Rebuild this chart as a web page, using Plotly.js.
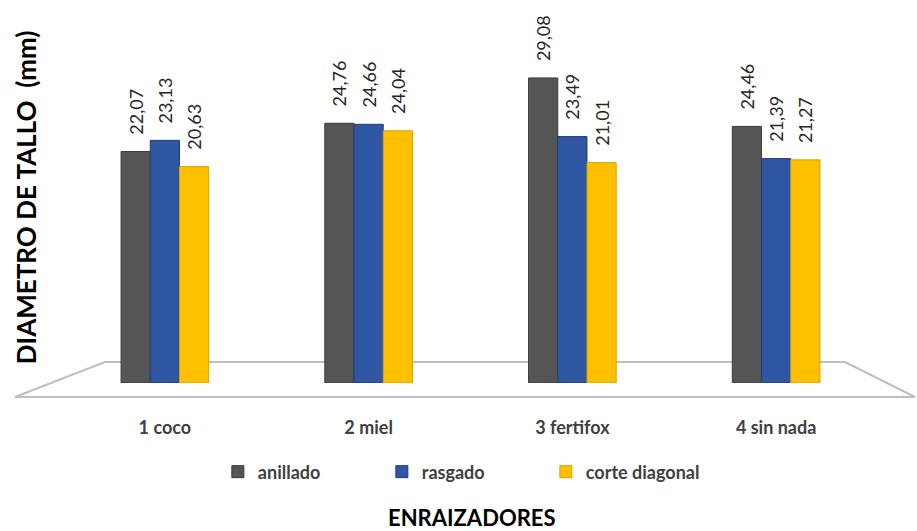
<!DOCTYPE html>
<html><head><meta charset="utf-8">
<script src="https://cdn.plot.ly/plotly-3.0.1.min.js"></script>
<style>html,body{margin:0;padding:0;background:#fff}#c{width:917px;height:531px}</style>
</head><body><div id="c"></div>
<script>
const categories = ["1 coco", "2 miel", "3 fertifox", "4 sin nada"];
const anillado = [22.07, 24.76, 29.08, 24.46];
const rasgado = [23.13, 24.66, 23.49, 21.39];
const corteDiagonal = [20.63, 24.04, 21.01, 21.27];
const seriesNames = ["anillado", "rasgado", "corte diagonal"];
const colors = ["#555555", "#2f56a2", "#ffc000"];
const lineColors = ["#3a3a3a", "#1f3d78", "#d9a000"];

const fmt = v => '\u00a0\u00a0\u00a0' + v.toFixed(2).replace('.', ',');
const all = [anillado, rasgado, corteDiagonal];
const FONT = "Lato, 'Open Sans', sans-serif";

const traces = all.map((vals, i) => ({
  type: 'bar', x: categories, y: vals, name: seriesNames[i],
  marker: {color: colors[i], line: {color: lineColors[i], width: 1}},
  text: vals.map(fmt), textposition: 'outside', textangle: -90,
  constraintext: 'none',
  textfont: {family: FONT, size: 18, color: '#262626'},
  cliponaxis: false, hoverinfo: 'x+y'
}));

const layout = {
  width: 917, height: 531,
  margin: {l: 63, r: 39, t: 30, b: 148},
  paper_bgcolor: '#fff', plot_bgcolor: 'rgba(0,0,0,0)',
  barmode: 'group', bargap: 0.57, bargroupgap: 0,
  font: {family: FONT, color: '#404040'},
  xaxis: {showgrid: false, zeroline: false, showline: false, ticks: '',
          ticklabelstandoff: 32, tickfont: {family: FONT, size: 18, color: '#404040', weight: 'bold'}},
  yaxis: {range: [0, 33.65], showgrid: false, zeroline: false, showline: false,
          showticklabels: false, ticks: ''},
  showlegend: true,
  legend: {orientation: 'h', x: 0.19, xanchor: 'left', y: -0.252, yanchor: 'middle',
           entrywidth: 119, font: {family: FONT, size: 18, color: '#404040', weight: 'bold'},
           itemwidth: 30, traceorder: 'normal'},
  shapes: [{
    type: 'path', xref: 'paper', yref: 'paper', layer: 'below',
    path: 'M 0.0515 0.0595 L 0.9595 0.0595 L 1.0454 -0.0397 L -0.0589 -0.0397 Z',
    fillcolor: '#ffffff', line: {color: '#bfbfbf', width: 2}
  }],
  annotations: [
    {text: '<b>DIAMETRO DE TALLO  (mm)</b>', xref: 'paper', yref: 'paper',
     x: -0.045, y: 0.527, xanchor: 'center', yanchor: 'middle', textangle: -90,
     showarrow: false, font: {family: FONT, size: 26, color: '#000'}},
    {text: 'ENRAIZADORES', xref: 'paper', yref: 'paper',
     x: 0.502, y: -0.38, xanchor: 'center', yanchor: 'middle',
     showarrow: false, font: {family: FONT, size: 22, color: '#000', weight: 'bold'}}
  ]
};
Plotly.newPlot('c', traces, layout, {displayModeBar: false, staticPlot: true});
</script></body></html>
